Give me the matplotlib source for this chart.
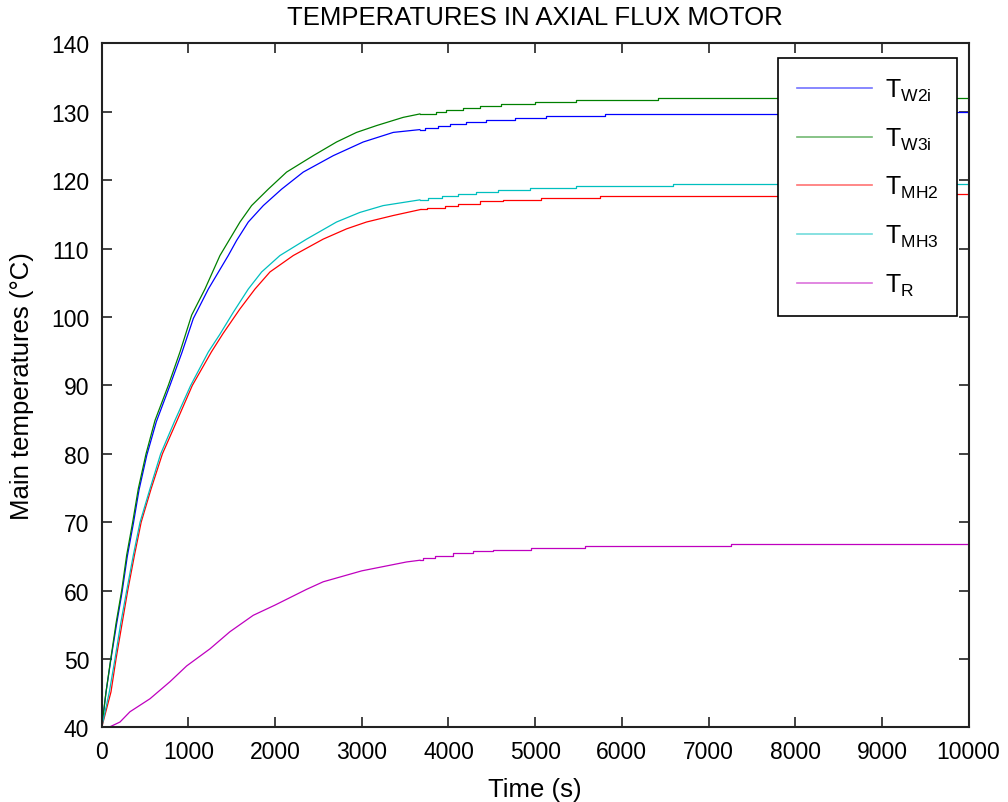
import matplotlib
matplotlib.use("Agg")
import matplotlib.pyplot as plt

plt.rcParams['font.family'] = ['Liberation Sans', 'DejaVu Sans']
plt.rcParams['mathtext.fontset'] = 'custom'
plt.rcParams['mathtext.rm'] = 'Liberation Sans'

# Rising part of each temperature curve: time (s), temperature (°C)
t_w2i = [0, 50, 104, 170, 235, 295, 365, 430, 520, 630, 787, 925, 1057, 1114,
         1230, 1460, 1556, 1691, 1864, 2075, 2325, 2671, 3017, 3363, 3670]
T_w2i = [40, 45.2, 49.8, 55.0, 59.8, 65.0, 69.8, 74.7, 79.8, 84.7, 90.0, 94.8,
         99.8, 101.2, 104.1, 109.0, 111.2, 113.9, 116.3, 118.7, 121.2, 123.6,
         125.6, 127.0, 127.41]

t_w3i = [0, 50, 104, 165, 230, 288, 357, 422, 511, 615, 768, 903, 1038, 1191,
         1364, 1595, 1729, 1921, 2133, 2440, 2709, 2940, 3171, 3478, 3670]
T_w3i = [40, 45.2, 50.0, 55.2, 60.0, 65.2, 70.0, 74.9, 80.0, 84.9, 90.0, 94.9,
         100.3, 104.1, 109.0, 113.9, 116.3, 118.7, 121.2, 123.6, 125.6, 127.0,
         128.0, 129.2, 129.70]

t_mh2 = [0, 107, 165, 235, 300, 378, 455, 570, 700, 870, 1045, 1265, 1400,
         1595, 1768, 1941, 2210, 2555, 2825, 3055, 3363, 3680]
T_mh2 = [40, 45.2, 50.0, 55.2, 60.0, 65.2, 70.0, 74.9, 80.0, 84.9, 90.0, 94.9,
         97.6, 101.2, 104.1, 106.6, 109.0, 111.4, 112.9, 113.9, 114.85, 115.73]

t_mh3 = [0, 88, 153, 219, 288, 365, 442, 557, 680, 845, 1026, 1230, 1364,
         1518, 1691, 1845, 2056, 2364, 2709, 2978, 3247, 3670]
T_mh3 = [40, 45.2, 50.0, 55.2, 60.0, 65.2, 70.0, 74.9, 80.0, 84.9, 90.0, 94.9,
         97.5, 100.7, 104.1, 106.6, 109.0, 111.4, 113.9, 115.3, 116.3, 117.14]

t_r = [0, 95, 211, 326, 557, 788, 980, 1249, 1479, 1748, 2000, 2364, 2555,
       3000, 3517, 3670]
T_r = [40, 40.1, 40.8, 42.3, 44.2, 46.7, 49.0, 51.5, 54.0, 56.4, 57.9, 60.2,
       61.3, 62.9, 64.2, 64.45]

# Quantised plateau part of each curve (stair steps)
ts_w2i = [3670, 3727, 3881, 4015, 4208, 4438, 4765, 5130, 5803, 7840, 10000]
Ts_w2i = [127.41, 127.66, 128.0, 128.29, 128.58, 128.87, 129.16, 129.46,
          129.75, 130.04, 130.04]

ts_w3i = [3670, 3862, 3977, 4169, 4362, 4611, 4996, 5476, 6418, 10000]
Ts_w3i = [129.70, 130.04, 130.33, 130.63, 130.92, 131.21, 131.50, 131.79,
          132.04, 132.04]

ts_mh2 = [3680, 3747, 3958, 4112, 4362, 4630, 5072, 5745, 8600, 10000]
Ts_mh2 = [115.73, 116.02, 116.31, 116.60, 116.90, 117.19, 117.48, 117.77,
          118.0, 118.0]

ts_mh3 = [3670, 3766, 3920, 4112, 4323, 4573, 4938, 5476, 6591, 10000]
Ts_mh3 = [117.14, 117.43, 117.77, 118.06, 118.35, 118.65, 118.94, 119.23,
          119.50, 119.50]

ts_r = [3670, 3709, 3843, 4054, 4285, 4515, 4957, 5572, 7263, 10000]
Ts_r = [64.45, 64.79, 65.13, 65.47, 65.76, 66.00, 66.30, 66.59, 66.88, 66.88]

labels = [r'$\mathregular{T_{W2i}}$', r'$\mathregular{T_{W3i}}$',
          r'$\mathregular{T_{MH2}}$', r'$\mathregular{T_{MH3}}$',
          r'$\mathregular{T_{R}}$']
colors = ['#0000ff', '#008000', '#ff0000', '#00bfbf', '#bf00bf']

rise = [(t_w2i, T_w2i), (t_w3i, T_w3i), (t_mh2, T_mh2), (t_mh3, T_mh3), (t_r, T_r)]
steps = [(ts_w2i, Ts_w2i), (ts_w3i, Ts_w3i), (ts_mh2, Ts_mh2), (ts_mh3, Ts_mh3), (ts_r, Ts_r)]

fig = plt.figure(figsize=(10.08, 8.03), dpi=100)
ax = fig.add_axes([0.1009, 0.0928, 0.8600, 0.8518])

handles = []
for (tr, Tr), (tsx, Tsy), c, lab in zip(rise, steps, colors, labels):
    h, = ax.plot(tr, Tr, color=c, lw=0.9, label=lab)
    ax.plot(tsx, Tsy, color=c, lw=0.9, drawstyle='steps-post')
    handles.append(h)

ax.set_xlim(0, 10000)
ax.set_ylim(40, 140)
ax.set_xticks(range(0, 10001, 1000))
ax.set_yticks(range(40, 141, 10))

for s in ax.spines.values():
    s.set_linewidth(1.5)
    s.set_color('#222222')
ax.tick_params(direction='in', length=7, width=1.2, top=True, right=True,
               labelsize=16.5, pad=9, colors='#222222', labelcolor='black')

ax.set_title('TEMPERATURES IN AXIAL FLUX MOTOR', fontsize=18.5, pad=14)
ax.set_xlabel('Time (s)', fontsize=18.5, labelpad=10)
ax.set_ylabel('Main temperatures (°C)', fontsize=18.5, labelpad=12)

leg = ax.legend(handles=handles, loc='upper right',
                bbox_to_anchor=(0.9867, 0.9788), borderaxespad=0,
                fontsize=18, handlelength=3.0, handletextpad=0.5,
                labelspacing=0.9, borderpad=0.75, fancybox=False,
                framealpha=1, edgecolor='black')
leg.get_frame().set_linewidth(1.2)
for line in leg.get_lines():
    line.set_linewidth(1.2)
    line.set_alpha(0.55)

fig.savefig('out.png', dpi=100)
